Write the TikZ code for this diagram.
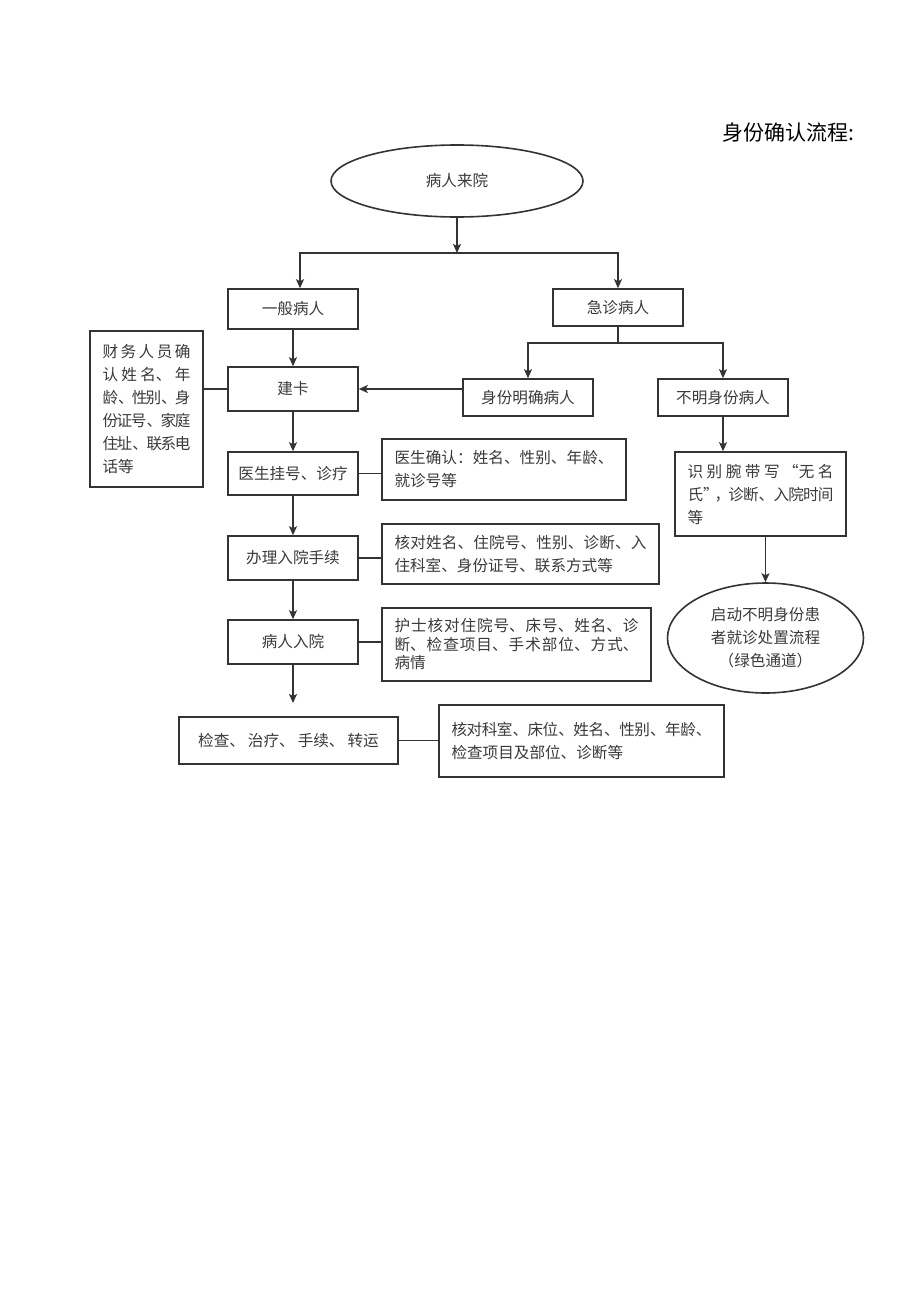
\documentclass[tikz,border=0pt]{standalone}
\usepackage{fontspec}
\setmainfont{Liberation Serif}
\newfontfamily\cjk{Noto Sans CJK SC}
\usetikzlibrary{arrows.meta,shapes.geometric,calc}
\XeTeXlinebreaklocale "zh"
\XeTeXlinebreakskip=0pt plus 6pt minus 2pt
\tolerance=10000
\hbadness=10000
\hfuzz=20pt
\definecolor{ln}{HTML}{333333}
\definecolor{tx}{HTML}{3A3A3A}
\tikzset{
  cjkf/.style={font=\cjk\fontsize{15.6}{23}\selectfont},
  base/.style={draw=ln, line width=1.6pt, text=tx, cjkf, inner sep=0pt},
  cbox/.style={base, rectangle, align=center, minimum width=130pt},
  dbox/.style={base, rectangle, align=justify, inner xsep=12.5pt},
  ell/.style={base, ellipse, align=center},
  conn/.style={draw=ln, line width=1.6pt},
  arr/.style={conn, -{Stealth[length=9pt,width=8pt,inset=2pt]}},
}
\begin{document}
\begin{tikzpicture}[x=1pt,y=-1pt]
\useasboundingbox (0,0) rectangle (920,1301);
\fill[white] (0,0) rectangle (920,1301);

\node[anchor=west, inner sep=0pt, text=black, font=\cjk\fontsize{21}{25}\selectfont] (title) at (722,133) {身份确认流程:};

\node[ell, minimum width=252pt, minimum height=72pt] (e1) at (457,181) {病人来院};
\node[cbox, minimum height=40pt] (n1) at (293,309) {一般病人};
\node[cbox, minimum height=37pt] (n2) at (618,307.5) {急诊病人};
\node[cbox, minimum height=44pt] (n3) at (293,389) {建卡};
\node[cbox, minimum height=37pt] (n4) at (528,397.5) {身份明确病人};
\node[cbox, minimum height=37pt] (n5) at (723,397.5) {不明身份病人};
\node[dbox, text width=88pt, minimum height=156pt] (fin) at (146.5,409)
  {财务人员确\linebreak 认姓名、年\linebreak 龄、性别、身\linebreak 份证号、家庭\linebreak 住址、联系电\linebreak 话等};
\node[cbox, minimum height=43pt] (n6) at (293,473.5) {医生挂号、诊疗};
\node[dbox, text width=219pt, minimum height=61pt] (d1) at (504,469.5)
  {医生确认：姓名、性别、年龄、\linebreak 就诊号等};
\node[cbox, minimum height=44pt] (n7) at (293,558) {办理入院手续};
\node[dbox, text width=252pt, minimum height=60pt] (d2) at (520.5,554)
  {核对姓名、住院号、性别、诊断、入\linebreak 住科室、身份证号、联系方式等};
\node[cbox, minimum height=44pt] (n8) at (293,642) {病人入院};
\node[dbox, text width=244pt, minimum height=73pt, font=\cjk\fontsize{15.6}{18.5}\selectfont] (d3) at (516.5,644.5)
  {护士核对住院号、床号、姓名、诊\linebreak 断、检查项目、手术部位、方式、\linebreak 病情};
\coordinate (a9) at (293,703);
\node[cbox, minimum width=219pt, minimum height=47pt] (n9) at (288.5,740.5)
  {检查、\kern3pt 治疗、\kern3pt 手续、\kern3pt 转运};
\node[dbox, text width=260pt, minimum height=72pt] (d4) at (581.5,741)
  {核对科室、床位、姓名、性别、年龄、\linebreak 检查项目及部位、诊断等\par\vskip 11pt};
\node[dbox, text width=146pt, minimum height=84pt] (n10) at (760.5,494)
  {识别腕带写“无名\linebreak 氏”\kern-4pt，\kern-2pt 诊断、入院时间\linebreak 等};
\node[ell, minimum width=196pt, minimum height=110pt] (e2) at (765.5,638)
  {启动不明身份患\\者就诊处置流程\\（绿色通道）};

% junctions
\coordinate (j1) at (457,253);
\coordinate (jl) at (300,253);
\coordinate (jr) at (n2.north |- j1);
\coordinate (j2) at (618,343);
\coordinate (j2l) at (n4.north |- j2);
\coordinate (j2r) at (n5.north |- j2);

\draw[arr] (e1.south) -- (j1);
\draw[arr] (jr) -- (jl) -- (jl |- n1.north);
\draw[arr] (jl) -- (jr) -- (n2.north);
\draw[conn] (n2.south) -- (j2);
\draw[arr] (j2r) -- (j2l) -- (n4.north);
\draw[arr] (j2l) -- (j2r) -- (n5.north);

\draw[arr] (n1) -- (n3);
\draw[arr] (n4.west |- n3.east) -- (n3.east);
\draw[conn] (fin.east |- n3.west) -- (n3.west);
\draw[arr] (n3) -- (n6);
\draw[conn] (n6.east) -- (n6.east -| d1.west);
\draw[arr] (n6) -- (n7);
\draw[conn] (n7.east) -- (n7.east -| d2.west);
\draw[arr] (n7) -- (n8);
\draw[conn] (n8.east) -- (n8.east -| d3.west);
\draw[arr] (n8) -- (a9);
\draw[conn] (n9.east) -- (n9.east -| d4.west);
\draw[arr] (n5.south) -- (n5.south |- n10.north);
\draw[arr] (e2.north |- n10.south) -- (e2.north);
\end{tikzpicture}
\end{document}
